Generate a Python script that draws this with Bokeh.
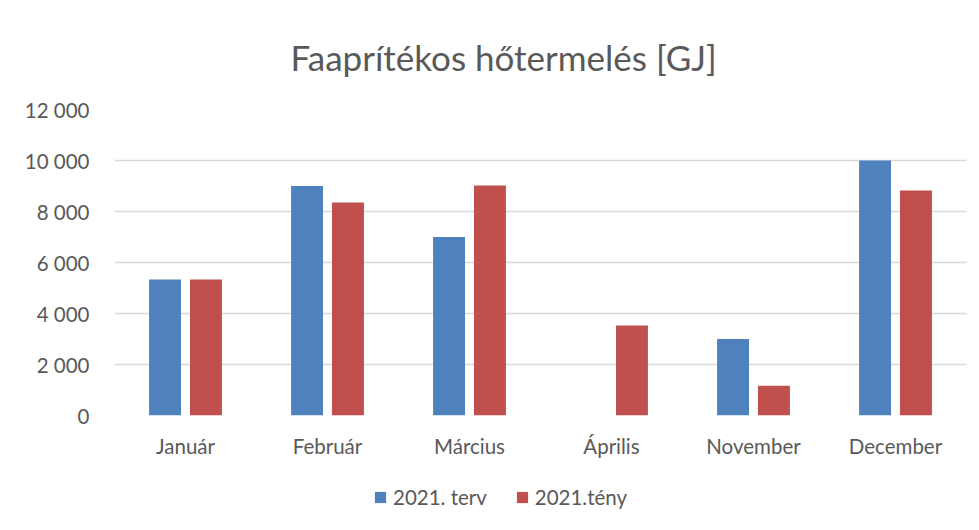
from bokeh.plotting import figure
from bokeh.models import ColumnDataSource, FixedTicker, Legend, LegendItem, FactorRange, Range1d
from bokeh.layouts import column
from bokeh.transform import dodge
from bokeh.embed import file_html
from bokeh.resources import INLINE

months = ["Január", "Február", "Március", "Április", "November", "December"]
terv = [5330, 9000, 7000, 0, 3000, 10000]
teny = [5330, 8350, 9020, 3530, 1170, 8820]
series_names = ["2021. terv", "2021.tény"]
y_ticks = [0, 2000, 4000, 6000, 8000, 10000, 12000]
y_tick_labels = ["0", "2 000", "4 000", "6 000", "8 000", "10 000", "12 000"]
title_text = "Faaprítékos hőtermelés [GJ]"

FONT = "Lato"
TXT = "#595959"
BLUE = "#4F81BD"
RED = "#C0504D"

src = ColumnDataSource(dict(month=months, terv=terv, teny=teny))

p = figure(
    width=979, height=470,
    x_range=FactorRange(*months, range_padding=0),
    y_range=Range1d(0, 12000),
    output_backend="svg", toolbar_location=None,
    min_border_left=114, min_border_right=13, min_border_top=109, min_border_bottom=55,
)

p.title.text = title_text
p.title.align = "left"
p.title.text_font = FONT
p.title.text_font_size = "35px"
p.title.text_font_style = "normal"
p.title.text_color = TXT
p.title.offset = 176
p.title.standoff = 63

p.vbar(x=dodge("month", -0.144, range=p.x_range), top="terv", width=0.225, source=src,
       fill_color=BLUE, line_color=None)
p.vbar(x=dodge("month", 0.144, range=p.x_range), top="teny", width=0.225, source=src,
       fill_color=RED, line_color=None)

p.outline_line_color = None
p.xgrid.grid_line_color = None
p.ygrid.grid_line_color = "#d9d9d9"
p.ygrid.grid_line_width = 1.5
p.yaxis.ticker = FixedTicker(ticks=y_ticks)
p.yaxis.major_label_overrides = {t: l for t, l in zip(y_ticks, y_tick_labels)}

for ax in (p.xaxis[0], p.yaxis[0]):
    ax.axis_line_color = None
    ax.major_tick_line_color = None
    ax.minor_tick_line_color = None
    ax.major_label_text_font = FONT
    ax.major_label_text_font_size = "20.5px"
    ax.major_label_text_color = TXT
p.yaxis.major_label_standoff = 19
p.xaxis.major_label_standoff = 12

# legend strip below the chart (hidden copies of the series, legend only)
lf = figure(
    width=979, height=60,
    x_range=FactorRange(*months, range_padding=0),
    y_range=Range1d(0, 12000),
    output_backend="svg", toolbar_location=None,
    min_border=0, min_border_left=0, min_border_right=0, min_border_top=0, min_border_bottom=0,
)
lf.axis.visible = False
lf.grid.visible = False
lf.outline_line_color = None
l1 = lf.vbar(x=dodge("month", -0.144, range=lf.x_range), top="terv", width=0.225, source=src,
             fill_color=BLUE, line_color=None, visible=False)
l2 = lf.vbar(x=dodge("month", 0.144, range=lf.x_range), top="teny", width=0.225, source=src,
             fill_color=RED, line_color=None, visible=False)

legend = Legend(
    items=[LegendItem(label=series_names[0], renderers=[l1]),
           LegendItem(label=series_names[1], renderers=[l2])],
    orientation="horizontal", location=(259, 21),
    label_text_font=FONT, label_text_font_size="20.5px", label_text_color=TXT,
    glyph_width=14, glyph_height=14, label_standoff=6, spacing=28,
    padding=0, margin=0, border_line_color=None, background_fill_alpha=0,
    inactive_fill_alpha=0,
)
lf.add_layout(legend, "center")

layout = column(p, lf, spacing=0)
open("out.html", "w").write(file_html(layout, INLINE))
